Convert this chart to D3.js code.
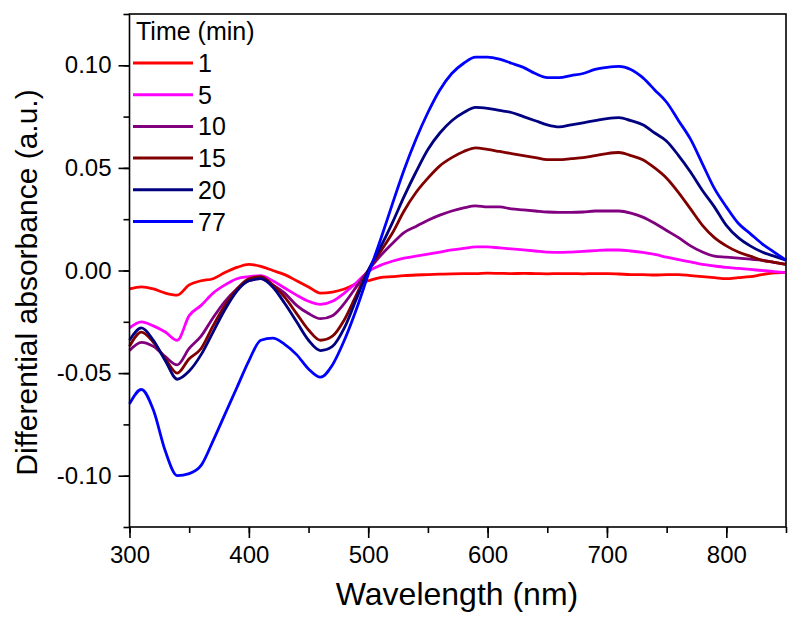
<!DOCTYPE html>
<html>
<head>
<meta charset="utf-8">
<script src="https://cdn.jsdelivr.net/npm/d3@7/dist/d3.min.js"></script>
<style>
  html, body { margin: 0; padding: 0; background: #fff; }
  svg { display: block; }
  text { font-family: "Liberation Sans", Arial, sans-serif; fill: #000; }
</style>
</head>
<body>
<svg id="chart" width="800" height="626"></svg>
<script>
// ---- data ----
const wavelengths = d3.range(300, 851, 10);

const series1 = [-0.009,-0.008,-0.009,-0.011,-0.012,-0.007,-0.005,-0.004,-0.001,0.0015,
  0.003,0.002,0.0,-0.002,-0.005,-0.008,-0.011,-0.0105,-0.009,-0.0065,
  -0.005,-0.0035,-0.003,-0.0025,-0.0022,-0.002,-0.0018,-0.0016,-0.0015,-0.0015,
  -0.0013,-0.0014,-0.0015,-0.0014,-0.0015,-0.0016,-0.0015,-0.0015,-0.0016,-0.0015,
  -0.0015,-0.0017,-0.002,-0.002,-0.0022,-0.002,-0.002,-0.0025,-0.003,-0.0035,
  -0.004,-0.0035,-0.003,-0.002,-0.0012,-0.0009];

const series5 = [-0.028,-0.025,-0.027,-0.030,-0.034,-0.022,-0.017,-0.011,-0.007,-0.004,
  -0.003,-0.0025,-0.005,-0.0085,-0.012,-0.015,-0.0165,-0.015,-0.011,-0.006,
  -0.0005,0.0025,0.0045,0.006,0.007,0.008,0.009,0.010,0.0108,0.0115,
  0.0115,0.011,0.0105,0.010,0.0095,0.009,0.0088,0.009,0.0093,0.0097,
  0.010,0.010,0.0095,0.0088,0.0078,0.0065,0.0053,0.0042,0.003,0.0022,
  0.0015,0.001,0.0005,0.0,-0.0005,-0.001];

const series10 = [-0.039,-0.035,-0.037,-0.042,-0.046,-0.038,-0.032,-0.023,-0.015,-0.009,
  -0.005,-0.004,-0.007,-0.011,-0.017,-0.021,-0.0235,-0.022,-0.016,-0.008,
  0.0,0.007,0.013,0.0185,0.0215,0.0245,0.027,0.029,0.0305,0.0315,
  0.031,0.031,0.030,0.0295,0.029,0.0285,0.0283,0.0283,0.0285,0.029,
  0.029,0.029,0.028,0.026,0.023,0.0195,0.016,0.012,0.009,0.007,
  0.0065,0.006,0.0055,0.005,0.004,0.003];

const series15 = [-0.037,-0.030,-0.035,-0.043,-0.050,-0.043,-0.038,-0.027,-0.017,-0.009,
  -0.004,-0.003,-0.007,-0.013,-0.021,-0.029,-0.034,-0.032,-0.024,-0.012,
  0.0,0.009,0.018,0.029,0.038,0.045,0.051,0.055,0.058,0.0598,
  0.059,0.058,0.057,0.056,0.055,0.054,0.054,0.0545,0.055,0.056,
  0.057,0.0575,0.056,0.054,0.050,0.045,0.038,0.030,0.022,0.016,
  0.012,0.009,0.007,0.005,0.004,0.003];

const series20 = [-0.034,-0.028,-0.034,-0.044,-0.053,-0.049,-0.041,-0.030,-0.019,-0.010,
  -0.005,-0.004,-0.008,-0.016,-0.025,-0.034,-0.039,-0.037,-0.028,-0.014,
  0.0,0.011,0.023,0.036,0.048,0.059,0.067,0.073,0.077,0.0795,
  0.079,0.078,0.077,0.075,0.073,0.071,0.070,0.071,0.072,0.073,
  0.074,0.0745,0.073,0.071,0.067,0.063,0.056,0.048,0.039,0.031,
  0.022,0.016,0.012,0.009,0.007,0.005];

const series77 = [-0.065,-0.058,-0.068,-0.088,-0.100,-0.099,-0.095,-0.083,-0.070,-0.057,
  -0.044,-0.034,-0.033,-0.036,-0.041,-0.048,-0.052,-0.046,-0.034,-0.019,
  -0.002,0.0145,0.032,0.049,0.064,0.077,0.088,0.096,0.101,0.104,
  0.104,0.103,0.101,0.099,0.096,0.094,0.094,0.095,0.096,0.098,
  0.099,0.0995,0.098,0.094,0.088,0.082,0.073,0.064,0.052,0.040,
  0.031,0.023,0.018,0.013,0.009,0.005];

const timeLabels = ["1", "5", "10", "15", "20", "77"];
const seriesColors = ["#FF0000", "#FF00FF", "#800080", "#800000", "#000080", "#0000FF"];
const allSeries = [series1, series5, series10, series15, series20, series77];

const xTicks = [300, 400, 500, 600, 700, 800];
const yTicks = [-0.10, -0.05, 0.00, 0.05, 0.10];

// ---- layout ----
const svg = d3.select("#chart");
const L = 129.5, R = 786, T = 14, B = 527;

const x = d3.scaleLinear().domain([300, 850]).range([L, R]);
const y = d3.scaleLinear().domain([-0.125, 0.125]).range([B, T]);

// data lines
const line = d3.line()
  .x((d, i) => x(wavelengths[i]))
  .y(d => y(d))
  .curve(d3.curveMonotoneX);

const plot = svg.append("g");
allSeries.forEach((s, k) => {
  plot.append("path")
    .datum(s)
    .attr("d", line)
    .attr("fill", "none")
    .attr("stroke", seriesColors[k])
    .attr("stroke-width", 2.8)
    .attr("stroke-linejoin", "round");
});

// frame
svg.append("rect")
  .attr("x", L).attr("y", T)
  .attr("width", R - L).attr("height", B - T)
  .attr("fill", "none").attr("stroke", "#000").attr("stroke-width", 1.6);

// x axis
const xAxisMinor = d3.axisBottom(x).tickValues(d3.range(300, 851, 50)).tickSize(6).tickFormat("");
const xAxis = d3.axisBottom(x).tickValues(xTicks).tickSize(11).tickPadding(8).tickFormat(d3.format("d"));
const gxm = svg.append("g").attr("transform", `translate(0,${B})`).call(xAxisMinor);
const gx = svg.append("g").attr("transform", `translate(0,${B})`).call(xAxis);
[gx, gxm].forEach(g => {
  g.select(".domain").remove();
  g.selectAll("line").attr("stroke", "#000").attr("stroke-width", 1.6);
});
gx.selectAll("text").style("font-family", "'Liberation Sans', Arial, sans-serif").style("font-size", "24px").attr("fill", "#000");

// y axis
const yAxisMinor = d3.axisLeft(y).tickValues(d3.range(-0.125, 0.1251, 0.025)).tickSize(6).tickFormat("");
const yAxis = d3.axisLeft(y).tickValues(yTicks).tickSize(11).tickPadding(7).tickFormat(d3.format(".2f"));
const gym = svg.append("g").attr("transform", `translate(${L},0)`).call(yAxisMinor);
const gy = svg.append("g").attr("transform", `translate(${L},0)`).call(yAxis);
[gy, gym].forEach(g => {
  g.select(".domain").remove();
  g.selectAll("line").attr("stroke", "#000").attr("stroke-width", 1.6);
});
gy.selectAll("text").style("font-family", "'Liberation Sans', Arial, sans-serif").style("font-size", "24px").attr("fill", "#000")
  .text(d => d3.format(".2f")(d).replace("−", "-"));

// axis titles
svg.append("text")
  .attr("x", 457).attr("y", 605)
  .attr("text-anchor", "middle")
  .style("font-size", "32px")
  .text("Wavelength (nm)");

svg.append("text")
  .attr("transform", `translate(37,${(T + B) / 2 + 12}) rotate(-90)`)
  .attr("text-anchor", "middle")
  .style("font-size", "30px")
  .text("Differential absorbance (a.u.)");

// legend
const lg = svg.append("g");
lg.append("text").attr("x", 136).attr("y", 40).style("font-size", "25px").text("Time (min)");
timeLabels.forEach((t, k) => {
  const yy = 63 + k * 31.7;
  lg.append("line").attr("x1", 133).attr("x2", 193).attr("y1", yy).attr("y2", yy)
    .attr("stroke", seriesColors[k]).attr("stroke-width", 3);
  lg.append("text").attr("x", 198).attr("y", yy + 9).style("font-size", "25px").text(t);
});
</script>
</body>
</html>
